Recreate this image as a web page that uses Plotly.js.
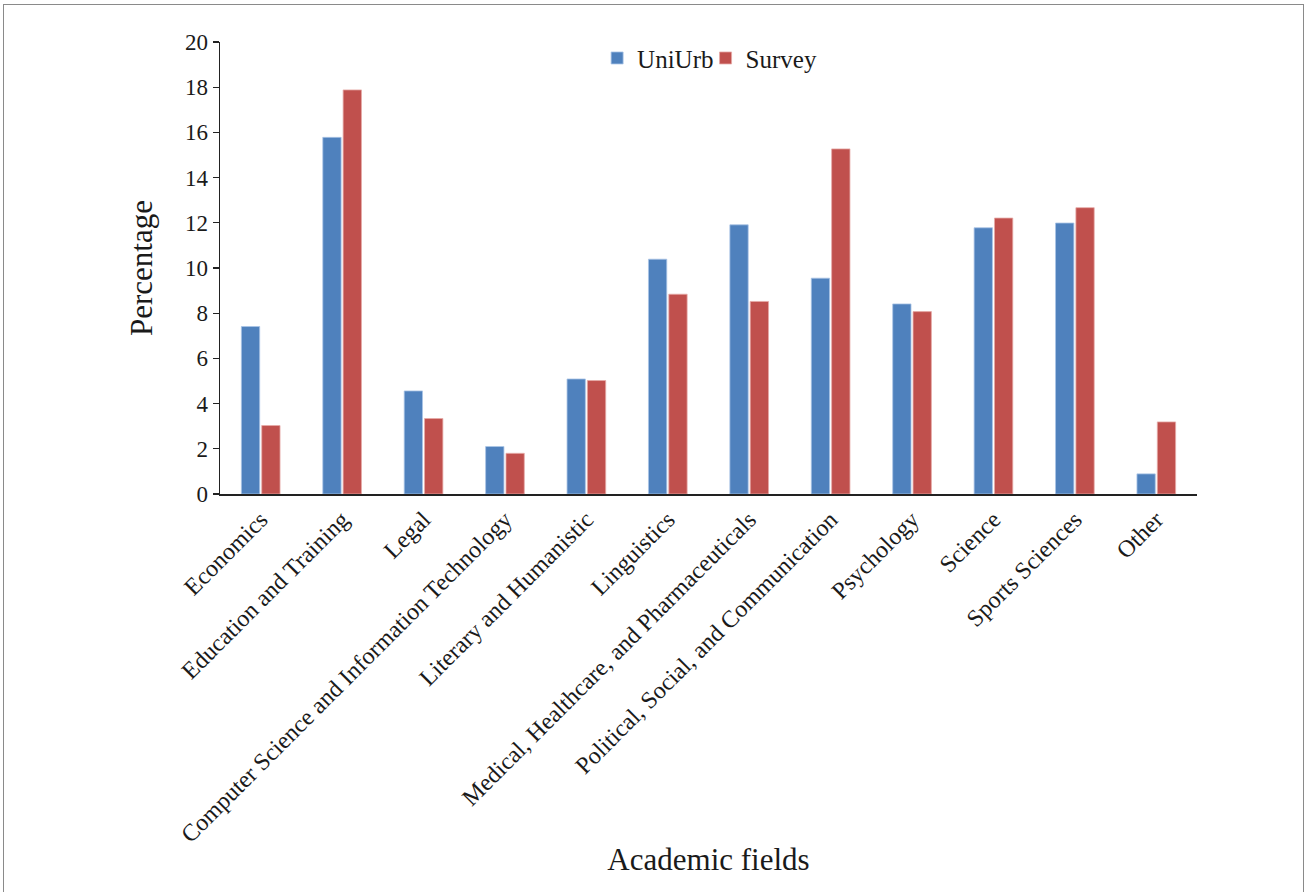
<!DOCTYPE html>
<html>
<head>
<meta charset="utf-8">
<script src="https://cdn.plot.ly/plotly-3.0.1.min.js"></script>
<style>
  html, body { margin: 0; padding: 0; background: #fff; }
  #frame { position: absolute; left: 3px; top: 4px; width: 1301px; height: 900px; border: 1px solid #8a8a8a; box-sizing: border-box; }
  #chart { position: absolute; left: 0; top: 0; width: 1308px; height: 892px; }
</style>
</head>
<body>
<div id="frame"></div>
<div id="chart"></div>
<script>
const categories = [
  "Economics",
  "Education and Training",
  "Legal",
  "Computer Science and Information Technology",
  "Literary and Humanistic",
  "Linguistics",
  "Medical, Healthcare, and Pharmaceuticals",
  "Political, Social, and Communication",
  "Psychology",
  "Science",
  "Sports Sciences",
  "Other"
];
const uniurb = [7.41, 15.78, 4.56, 2.10, 5.09, 10.39, 11.91, 9.55, 8.41, 11.78, 11.99, 0.89];
const survey = [3.03, 17.88, 3.34, 1.80, 5.02, 8.84, 8.52, 15.27, 8.07, 12.21, 12.67, 3.19];
const yTicks = [0, 2, 4, 6, 8, 10, 12, 14, 16, 18, 20];

const FONT = "Liberation Serif, 'DejaVu Serif', serif";

const traces = [
  {
    type: "bar", name: "UniUrb", x: categories, y: uniurb, legend: "legend",
    marker: { color: "#4F81BD", line: { color: "#a9c4e6", width: 0.8 } }
  },
  {
    type: "bar", name: "Survey", x: categories, y: survey, legend: "legend2",
    marker: { color: "#C0504D", line: { color: "#e6a9a7", width: 0.8 } }
  }
];

const legendBase = {
  orientation: "h", y: 1.015, xanchor: "left", yanchor: "top",
  font: { family: FONT, size: 25, color: "#1a1a1a" },
  itemwidth: 30, bgcolor: "rgba(0,0,0,0)", borderwidth: 0
};

const layout = {
  width: 1308, height: 892,
  paper_bgcolor: "rgba(0,0,0,0)",
  plot_bgcolor: "rgba(0,0,0,0)",
  margin: { l: 220, r: 111, t: 42, b: 398 },
  barmode: "group",
  bargap: 0.5,
  bargroupgap: 0.1,
  font: { family: FONT, color: "#1a1a1a", size: 22 },
  showlegend: true,
  legend: Object.assign({}, legendBase, { x: 0.386 }),
  legend2: Object.assign({}, legendBase, { x: 0.497 }),
  xaxis: {
    type: "category",
    tickangle: -45,
    tickfont: { family: FONT, size: 24, color: "#1a1a1a" },
    showline: true, linecolor: "#222", linewidth: 2,
    ticks: "", showgrid: false, zeroline: false,
    automargin: false,
    title: { text: "Academic fields", font: { family: FONT, size: 31, color: "#1a1a1a" }, standoff: 2 }
  },
  yaxis: {
    range: [0, 20],
    tickvals: yTicks,
    ticktext: yTicks.map(String),
    tickfont: { family: FONT, size: 23, color: "#1a1a1a" },
    showline: true, linecolor: "#222", linewidth: 1.5,
    ticks: "outside", ticklen: 6, tickwidth: 1.2, tickcolor: "#222",
    showgrid: false, zeroline: false,
    automargin: false,
    title: { text: "Percentage", font: { family: FONT, size: 31, color: "#1a1a1a" }, standoff: 23 }
  }
};

Plotly.newPlot("chart", traces, layout, { displayModeBar: false, staticPlot: true });
</script>
</body>
</html>
